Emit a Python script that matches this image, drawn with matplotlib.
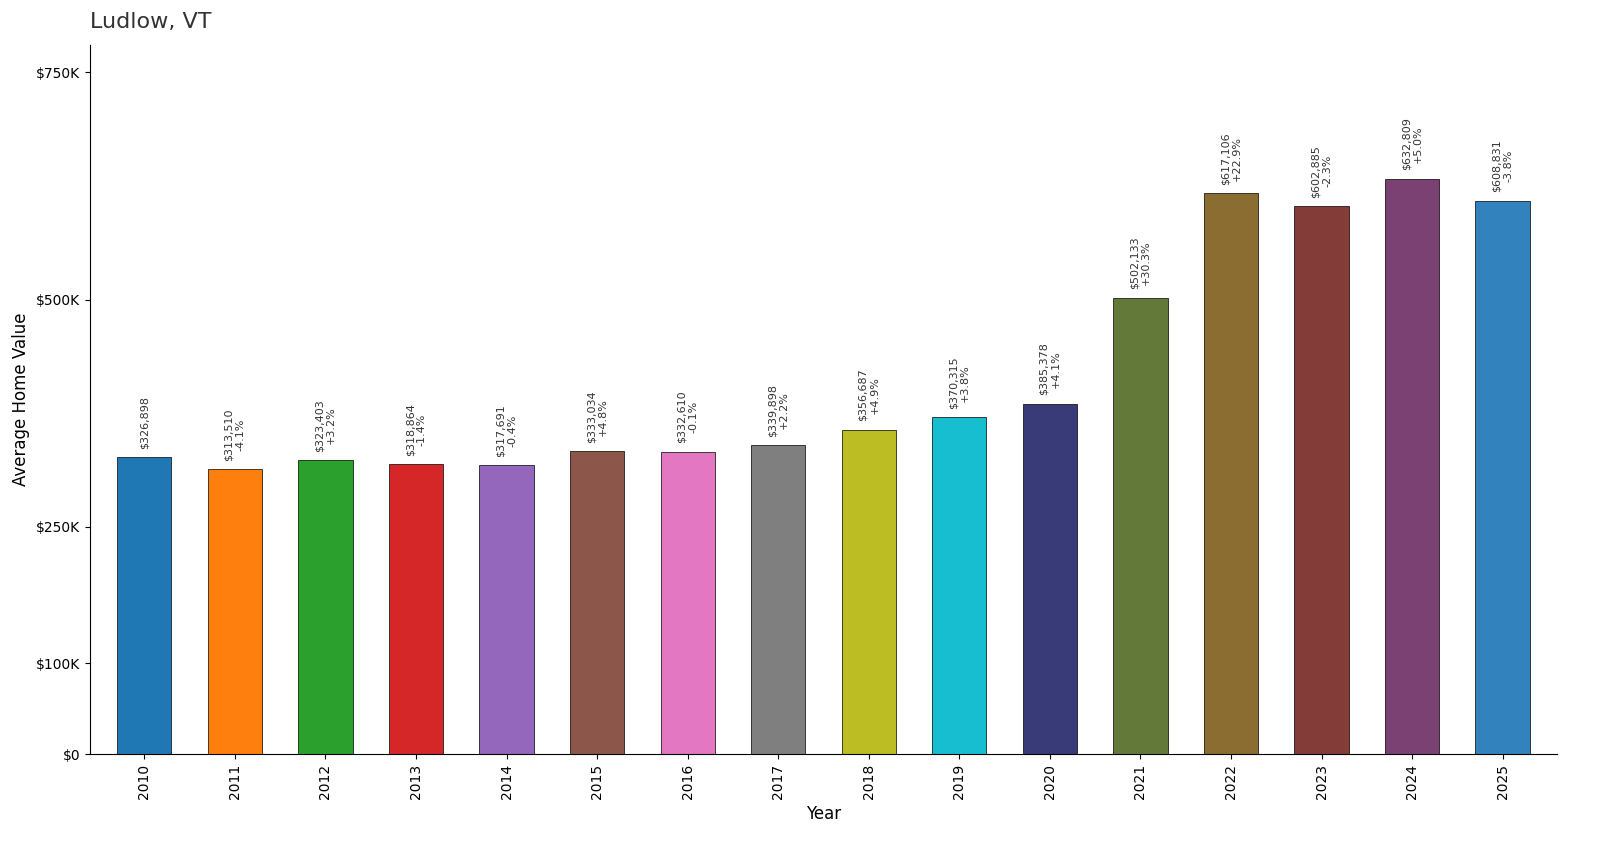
import matplotlib
matplotlib.use("Agg")
import matplotlib.pyplot as plt
from matplotlib.ticker import FuncFormatter

years = ["2010", "2011", "2012", "2013", "2014", "2015", "2016", "2017",
         "2018", "2019", "2020", "2021", "2022", "2023", "2024", "2025"]
values = [326898, 313510, 323403, 318864, 317691, 333034, 332610, 339898,
          356687, 370315, 385378, 502133, 617106, 602885, 632809, 608831]
changes = [None, "-4.1%", "+3.2%", "-1.4%", "-0.4%", "+4.8%", "-0.1%", "+2.2%",
           "+4.9%", "+3.8%", "+4.1%", "+30.3%", "+22.9%", "-2.3%", "+5.0%", "-3.8%"]
colors = ["#1f77b4", "#ff7f0e", "#2ca02c", "#d62728", "#9467bd", "#8c564b",
          "#e377c2", "#7f7f7f", "#bcbd22", "#17becf", "#393b79", "#637939",
          "#8c6d31", "#843c39", "#7b4173", "#3182bd"]

fig = plt.figure(figsize=(16, 8.48), dpi=100)
ax = fig.add_axes([90 / 1600, 94 / 848, 1467 / 1600, 709 / 848])

x = range(len(years))
ax.bar(x, values, width=0.6, color=colors, edgecolor="black", linewidth=0.5)

for i, v in enumerate(values):
    label = f"${v:,}" if changes[i] is None else f"${v:,}\n{changes[i]}"
    ax.annotate(label, (i, v), xytext=(0, 6), textcoords="offset points",
                rotation=90, ha="center", va="bottom", fontsize=8, color="#333333")

ax.set_xlim(-0.6, len(years) - 0.4)
ax.set_ylim(0, 780000)
ax.set_xticks(list(x))
ax.set_xticklabels(years, rotation=90)
ax.set_yticks([0, 100000, 250000, 500000, 750000])
ax.yaxis.set_major_formatter(FuncFormatter(lambda v, p: "$0" if v == 0 else f"${int(v/1000)}K"))
ax.tick_params(labelsize=10)
ax.spines["top"].set_visible(False)
ax.spines["right"].set_visible(False)
ax.set_xlabel("Year", fontsize=12)
ax.set_ylabel("Average Home Value", fontsize=12)
ax.set_title("Ludlow, VT", loc="left", fontsize=16, color="#333333", pad=12)

fig.savefig("out.png", dpi=100)
